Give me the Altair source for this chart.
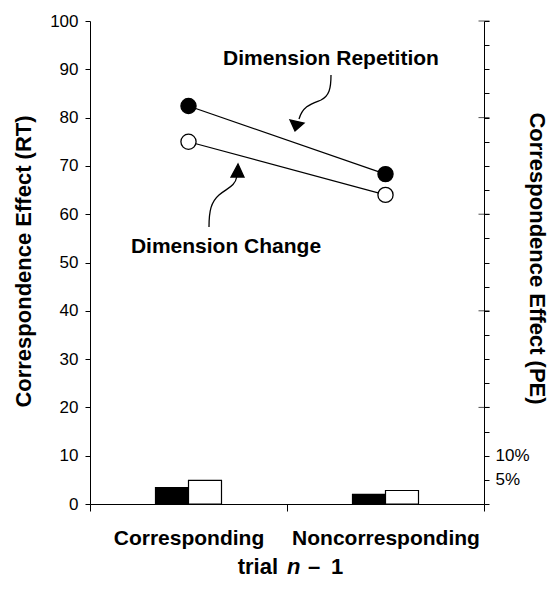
import altair as alt
import pandas as pd

# ---- data ----
conditions = ["Corresponding", "Noncorresponding"]
series = ["Dimension Repetition", "Dimension Change"]
rt_repetition = [82.4, 68.3]
rt_change = [75.0, 64.0]
pe_repetition = [3.4, 2.0]
pe_change = [4.9, 2.8]

rt_tick_values = list(range(0, 101, 10))
pe_tick_values = list(range(0, 101, 5))
pe_major_ticks = [20, 40, 60, 80, 100]

rows = []
for i, c in enumerate(conditions):
    rows.append({"cond": c, "series": series[0], "rt": rt_repetition[i], "pe": pe_repetition[i]})
    rows.append({"cond": c, "series": series[1], "rt": rt_change[i], "pe": pe_change[i]})
df = pd.DataFrame(rows)

W, H = 394, 483
FONT = "Liberation Sans"

x_enc = alt.X(
    "cond:N",
    sort=conditions,
    scale=alt.Scale(domain=conditions, paddingInner=0, paddingOuter=0),
    axis=alt.Axis(
        title=None, tickBand="extent", tickSize=7, labelPadding=16,
        labelFontSize=21, labelFontWeight="bold", labelAngle=0, labelLimit=0,
        labelBaseline="top", labelFont=FONT, labelColor="black",
        domainColor="black", tickColor="black",
    ),
)

fill_scale = alt.Scale(domain=series, range=["black", "white"])

pe_scale = alt.Scale(domain=[0, 100], nice=False, zero=True)
pe_axis = alt.Axis(
    orient="right", values=pe_tick_values, tickSize=5,
    labelExpr="datum.value == 5 || datum.value == 10 ? datum.value + '%' : ''",
    labelFontSize=17, labelPadding=6, labelFont=FONT, labelColor="black",
    title="Correspondence Effect (PE)", titleAngle=90, titleX=52, titleY=237,
    titleBaseline="middle", titleAlign="center", titleFontSize=22,
    titleFont=FONT, titleFontWeight="bold", titleColor="black",
    domainColor="black", tickColor="black", grid=False,
)

rt_scale = alt.Scale(domain=[0, 100], nice=False, zero=True)
rt_axis = alt.Axis(
    orient="left", values=rt_tick_values, tickSize=5,
    labelFontSize=17, labelPadding=7, labelFont=FONT, labelColor="black",
    title="Correspondence Effect (RT)", titleAngle=270, titleX=-67, titleY=240,
    titleBaseline="middle", titleAlign="center", titleFontSize=22,
    titleFont=FONT, titleFontWeight="bold", titleColor="black",
    domainColor="black", tickColor="black", grid=False,
)

bars = alt.Chart(df).mark_bar(stroke="black", strokeWidth=1.2).encode(
    x=x_enc,
    xOffset=alt.XOffset(
        "series:N", sort=series,
        scale=alt.Scale(domain=series, paddingInner=0, paddingOuter=0, range=[65.5, 131.5]),
    ),
    y=alt.Y("pe:Q", scale=pe_scale, axis=pe_axis),
    fill=alt.Fill("series:N", scale=fill_scale, legend=None),
)

major = alt.Chart(pd.DataFrame({"v": pe_major_ticks})).mark_tick(
    color="black", thickness=1, size=11
).encode(
    y=alt.Y("v:Q", scale=pe_scale, axis=pe_axis),
    x=alt.value(W),
)

pe_layer = alt.layer(bars, major)

lines = alt.Chart(df).mark_line(color="black", strokeWidth=1.2).encode(
    x=x_enc,
    y=alt.Y("rt:Q", scale=rt_scale, axis=rt_axis),
    detail="series:N",
)

points = alt.Chart(df).mark_point(
    filled=True, size=230, stroke="black", strokeWidth=1.3, opacity=1
).encode(
    x=x_enc,
    y=alt.Y("rt:Q", scale=rt_scale, axis=rt_axis),
    fill=alt.Fill("series:N", scale=fill_scale, legend=None),
)

rt_layer = alt.layer(lines, points)


def label(txt, x, y, size=21, style="normal", align="center"):
    return alt.Chart(pd.DataFrame({"t": [txt]})).mark_text(
        font=FONT, fontSize=size, fontWeight="bold", fontStyle=style,
        align=align, baseline="alphabetic", color="black",
    ).encode(text="t:N", x=alt.value(x), y=alt.value(y))


def shape(path, x, y, filled):
    return alt.Chart(pd.DataFrame({"s": [1]})).mark_point(
        shape=path, size=4, filled=filled, stroke="black",
        strokeWidth=1.3, opacity=1, fill="black" if filled else "transparent",
    ).encode(x=alt.value(x), y=alt.value(y))


ann_rep = label(series[0], 241, 44)
ann_chg = label(series[1], 136, 232)
arrow_rep = shape("M0,0 C0,14 -2,21 -10,25 C-20,29 -28,31 -32,44", 241, 54, False)
head_rep = shape("M-36,56 L-41,45 L-27,48 Z", 241, 54, True)
arrow_chg = shape("M0,0 C0,-16 2,-25 10,-32 C18,-39 26,-40 28,-51", 119, 206, False)
head_chg = shape("M29,-63 L22,-50 L35,-50 Z", 119, 206, True)

t1 = label("trial", 188, 553, size=22, align="right")
t2 = label("n", 197, 553, size=22, style="italic", align="left")
t3 = label("\u2013", 224, 553, size=22, align="center")
t4 = label("1", 241, 553, size=22, align="left")

chart = alt.layer(
    pe_layer, rt_layer, ann_rep, ann_chg, arrow_rep, head_rep,
    arrow_chg, head_chg, t1, t2, t3, t4,
).resolve_scale(y="independent").properties(
    width=W, height=H,
    autosize=alt.AutoSizeParams(type="none"),
    padding={"left": 82, "top": 13, "right": 64, "bottom": 77},
).configure_view(stroke=None).configure_axis(grid=False)

chart.save("out.html", embed_options={"renderer": "svg", "actions": False})
